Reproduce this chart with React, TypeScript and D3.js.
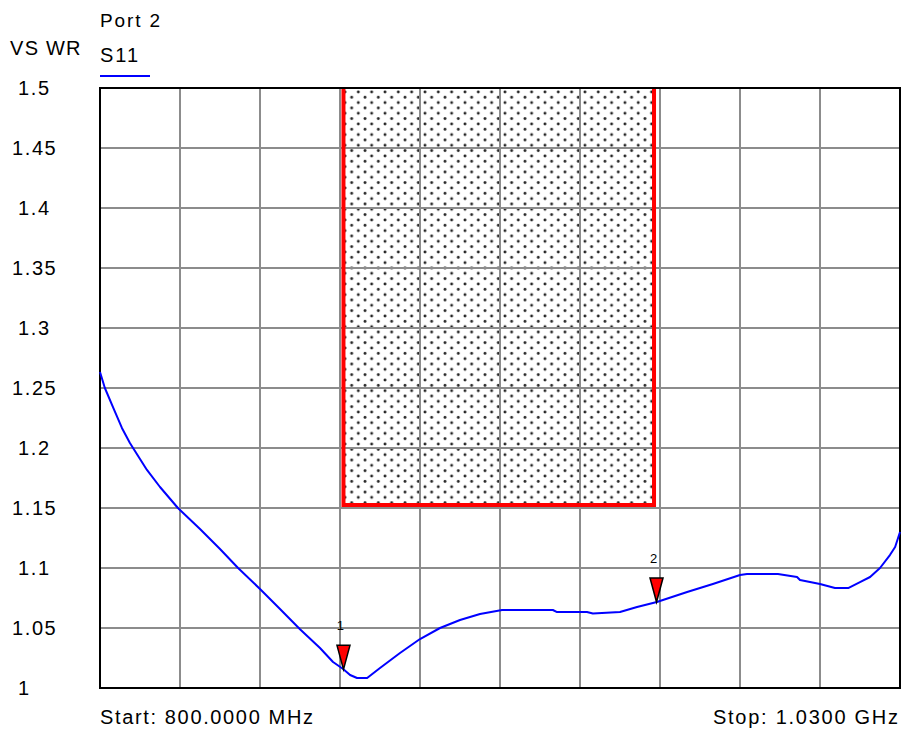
import React from "react";
import * as d3 from "d3";

// S11 VSWR trace (frequency in MHz)
const freqMHz = [
  800, 801.4, 803.7, 806.3, 808.6, 811.5, 813.5, 817.25, 822.4, 828.75, 834.5, 839.7,
  846.0, 851.75, 857.5, 863.25, 867.0, 869.9, 871.9, 873.9, 876.8, 880.5, 886.25, 892.0,
  897.75, 903.5, 909.25, 915.6, 930.2, 931.4, 940.0, 941.7, 949.5, 954.4, 960.1, 968.8,
  976.2, 984.0, 986.0, 994.9, 1000.4, 1001.25, 1007.0, 1011.3, 1015.1, 1018.5, 1021.4,
  1024.25, 1027.1, 1028.6, 1030,
];
const vswrS11 = [
  1.2633, 1.25, 1.2342, 1.2167, 1.2042, 1.1908, 1.1817, 1.1675, 1.15, 1.1325, 1.1158, 1.1,
  1.0825, 1.0658, 1.049, 1.0333, 1.0217, 1.0158, 1.0108, 1.0083, 1.0083, 1.0167, 1.0292,
  1.0408, 1.05, 1.0567, 1.0617, 1.065, 1.065, 1.0633, 1.0633, 1.0621, 1.0633, 1.0675,
  1.0717, 1.08, 1.0867, 1.0942, 1.095, 1.095, 1.0925, 1.09, 1.0867, 1.0833, 1.0833,
  1.0883, 1.0925, 1.1, 1.1108, 1.1175, 1.13,
];

const yTicks = [1, 1.05, 1.1, 1.15, 1.2, 1.25, 1.3, 1.35, 1.4, 1.45, 1.5];
const yTickLabels = ["1", "1.05", "1.1", "1.15", "1.2", "1.25", "1.3", "1.35", "1.4", "1.45", "1.5"];
const xGridFreqs = [800, 823, 846, 869, 892, 915, 938, 961, 984, 1007, 1030];

const limitBand = [870, 960];
const limitVswr = [1.15, 1.5];
const markerFreqs = [870, 960];
const markerLabels = ["1", "2"];

const FONT = "'Liberation Sans', Arial, Helvetica, sans-serif";

function interp(f: number): number {
  for (let i = 0; i < freqMHz.length - 1; i++) {
    if (f >= freqMHz[i] && f <= freqMHz[i + 1]) {
      const t = (f - freqMHz[i]) / (freqMHz[i + 1] - freqMHz[i]);
      return vswrS11[i] + t * (vswrS11[i + 1] - vswrS11[i]);
    }
  }
  return vswrS11[vswrS11.length - 1];
}

export default function App() {
  const W = 902, H = 733;
  const left = 100, right = 900, top = 88, bottom = 688;
  const x = d3.scaleLinear().domain([800, 1030]).range([left, right]);
  const y = d3.scaleLinear().domain([1, 1.5]).range([bottom, top]);

  const pts: [number, number][] = freqMHz.map((f, i) => [x(f), y(vswrS11[i])]);
  const linePath = d3.line().curve(d3.curveLinear)(pts) || "";

  const bx0 = x(limitBand[0]);
  const bx1 = x(limitBand[1]) - 2.5;
  const by1 = y(limitVswr[0]) - 3;

  return (
    <svg
      width={W}
      height={H}
      style={{ position: "absolute", left: 0, top: 0, background: "#fff" }}
      fontFamily={FONT}
    >
      <defs>
        <pattern id="dots" width={13.33} height={10.67} patternUnits="userSpaceOnUse" x={343} y={90}>
          <circle cx={2} cy={2} r={1.45} fill="#222" />
          <circle cx={8.67} cy={7.33} r={1.45} fill="#222" />
        </pattern>
      </defs>
      <rect x={0} y={0} width={W} height={H} fill="#fff" />

      {/* header texts */}
      <text x={100} y={27} fontSize={19} textLength={60} lengthAdjust="spacing">Port 2</text>
      <text x={10} y={55} fontSize={20} letterSpacing={1.5}>VS</text>
      <text x={46} y={55} fontSize={20} letterSpacing={1}>WR</text>
      <text x={100} y={62} fontSize={20} textLength={38} lengthAdjust="spacing">S11</text>
      <line x1={100} x2={150} y1={76} y2={76} stroke="#0000ff" strokeWidth={2} />

      {/* limit region fill */}
      <rect x={bx0} y={top} width={bx1 - bx0} height={by1 - top} fill="url(#dots)" />

      {/* grid */}
      {xGridFreqs.slice(1, -1).map((f) => (
        <line key={"gx" + f} x1={x(f)} x2={x(f)} y1={top} y2={bottom} stroke="#8c8c8c" strokeWidth={2} />
      ))}
      {yTicks.slice(1, -1).map((v) => (
        <line key={"gy" + v} x1={left} x2={right} y1={y(v)} y2={y(v)} stroke="#8c8c8c" strokeWidth={2} />
      ))}

      {/* limit region outline */}
      <path
        d={`M${bx0},${top} L${bx0},${by1} L${bx1},${by1} L${bx1},${top}`}
        fill="none"
        stroke="#ff0000"
        strokeWidth={4}
      />

      {/* frame */}
      <rect x={left} y={top} width={right - left} height={bottom - top} fill="none" stroke="#000" strokeWidth={2} />

      {/* y tick labels */}
      {yTicks.map((v, i) => (
        <text
          key={"yl" + v}
          x={yTickLabels[i].length >= 4 ? 12 : 18}
          y={y(v) + 7}
          fontSize={20}
          letterSpacing={1.6}
        >
          {yTickLabels[i]}
        </text>
      ))}

      {/* trace */}
      <path d={linePath} fill="none" stroke="#0000ff" strokeWidth={2} strokeLinejoin="round" />

      {/* markers */}
      {markerFreqs.map((f, i) => {
        const mx = x(f);
        const my = y(interp(f));
        return (
          <g key={"m" + i}>
            <path
              d={`M${mx},${my} L${mx - 6.5},${my - 24} L${mx + 6.5},${my - 24} Z`}
              fill="#ff0000"
              stroke="#000"
              strokeWidth={1.5}
              strokeLinejoin="miter"
            />
            <text x={mx - 3} y={my - 39} fontSize={13} textAnchor="middle">
              {markerLabels[i]}
            </text>
          </g>
        );
      })}

      {/* footer */}
      <text x={100} y={724} fontSize={20} textLength={213} lengthAdjust="spacing">Start: 800.0000 MHz</text>
      <text x={713} y={724} fontSize={20} textLength={185} lengthAdjust="spacing">Stop: 1.0300 GHz</text>
    </svg>
  );
}
